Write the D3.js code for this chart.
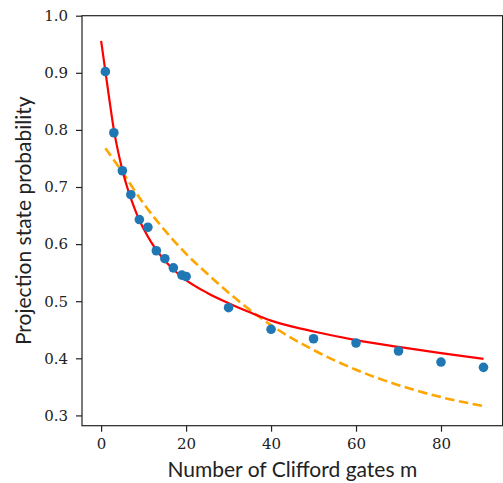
<!DOCTYPE html>
<html>
<head>
<meta charset="utf-8">
<script src="https://cdn.jsdelivr.net/npm/d3@7"></script>
<style>
	body { margin: 0; background: #fff; }
	svg { display: block; }
	.tick text { font-family: "DejaVu Serif", serif; font-size: 15px; fill: #222; }
	.axis-label { font-family: Lato, "DejaVu Sans", sans-serif; font-size: 21px; fill: #222; }
</style>
</head>
<body>
<div id="chart"></div>
<script>
	// measured points
	var gates = [1, 3, 5, 7, 9, 11, 13, 15, 17, 19, 20, 30, 40, 50, 60, 70, 80, 90];
	var probs = [0.902, 0.795, 0.7285, 0.6865, 0.643, 0.6295, 0.5884, 0.5744, 0.5584, 0.5457, 0.5433,
		0.4886, 0.4508, 0.4343, 0.4268, 0.4128, 0.3935, 0.3842];

	// red fit curve
	var fitGates = [0, 1, 2, 3, 4, 5, 6, 7, 8, 9, 10, 12, 14, 16, 18, 20, 25, 30, 35, 40, 45, 50, 60, 70, 80, 90];
	var fitProbs = [0.956, 0.903, 0.850, 0.800, 0.762, 0.730, 0.703, 0.680, 0.660, 0.642, 0.627, 0.601,
		0.580, 0.563, 0.549, 0.537, 0.5145, 0.4965, 0.4805, 0.466, 0.4555, 0.447, 0.432, 0.420, 0.409, 0.399];

	// orange dashed curve
	var expGates = [1, 5, 10, 15, 20, 25, 30, 40, 50, 60, 70, 80, 90];
	var expProbs = [0.768, 0.726, 0.671, 0.624, 0.583, 0.548, 0.515, 0.458, 0.4145, 0.380, 0.353, 0.332, 0.3165];

	var xTicks = [0, 20, 40, 60, 80];
	var yTicks = [0.3, 0.4, 0.5, 0.6, 0.7, 0.8, 0.9, 1.0];

	(function () {
		"use strict";

		var width = 503, height = 483;
		var left = 82, right = 502.6, top = 15.7, bottom = 425.7;

		var svg = d3.select('#chart')
			.append('svg')
			.attr('width', width)
			.attr('height', height);

		var x = d3.scaleLinear().domain([-4.5, 94.5]).range([left, right]);
		var y = d3.scaleLinear().domain([0.282, 1.0]).range([bottom, top]);

		svg.append('g')
			.attr('transform', 'translate(0,' + bottom + ')')
			.call(d3.axisBottom(x).tickValues(xTicks).tickSize(6).tickPadding(7).tickFormat(d3.format('d')))
			.call(styleAxis);

		svg.append('g')
			.attr('transform', 'translate(' + left + ',0)')
			.call(d3.axisLeft(y).tickValues(yTicks).tickSize(6).tickPadding(8).tickFormat(d3.format('.1f')))
			.call(styleAxis);

		var line = d3.line()
			.x(function (d) { return x(d[0]); })
			.y(function (d) { return y(d[1]); })
			.curve(d3.curveMonotoneX);

		svg.append('path')
			.datum(d3.zip(expGates, expProbs))
			.attr('d', line)
			.attr('fill', 'none')
			.attr('stroke', '#ffa500')
			.attr('stroke-width', 2.6)
			.attr('stroke-dasharray', '9.5,4.5');

		svg.append('path')
			.datum(d3.zip(fitGates, fitProbs))
			.attr('d', line)
			.attr('fill', 'none')
			.attr('stroke', '#ff0000')
			.attr('stroke-width', 2.2);

		svg.append('g')
			.selectAll('circle')
			.data(d3.zip(gates, probs))
			.enter()
			.append('circle')
			.attr('cx', function (d) { return x(d[0]); })
			.attr('cy', function (d) { return y(d[1]); })
			.attr('r', 4.8)
			.attr('fill', '#1f77b4');

		svg.append('rect')
			.attr('x', left)
			.attr('y', top)
			.attr('width', right - left)
			.attr('height', bottom - top)
			.attr('fill', 'none')
			.attr('stroke', '#222')
			.attr('stroke-width', 1.2);

		svg.append('text')
			.classed('axis-label', true)
			.attr('x', (left + right) / 2)
			.attr('y', 477)
			.attr('text-anchor', 'middle')
			.text('Number of Clifford gates m');

		svg.append('text')
			.classed('axis-label', true)
			.attr('transform', 'translate(31,' + (top + bottom) / 2 + ') rotate(-90)')
			.attr('text-anchor', 'middle')
			.text('Projection state probability');

		function styleAxis(g) {
			g.select('.domain').remove();
			g.selectAll('.tick line').attr('stroke', '#222').attr('stroke-width', 1.2);
		}
	}());
</script>
</body>
</html>
